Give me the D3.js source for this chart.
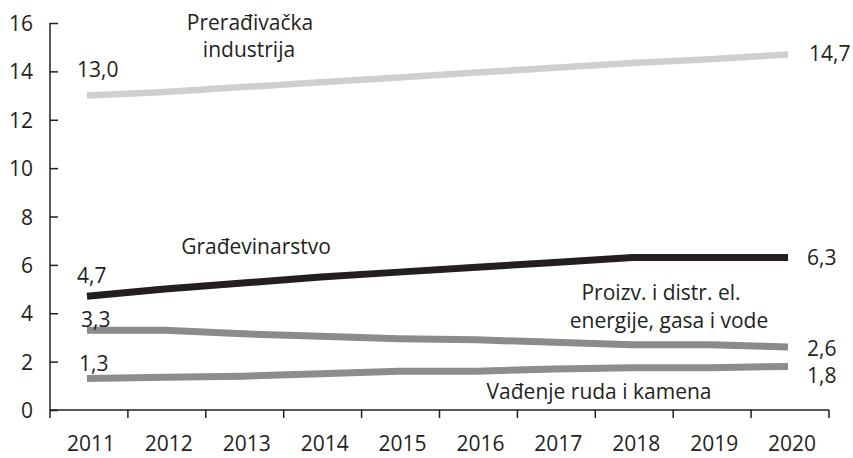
<!DOCTYPE html>
<meta charset="utf-8">
<style>
body { margin: 0; background: #fff; }
svg text { font-family: "Open Sans", sans-serif; fill: #231f20; font-size: 21px; }
</style>
<body>
<script src="https://d3js.org/d3.v7.min.js"></script>
<script>

// data
var years = ["2011","2012","2013","2014","2015","2016","2017","2018","2019","2020"];
var preradjivacka = [13.0, 13.15, 13.35, 13.55, 13.75, 13.95, 14.15, 14.35, 14.5, 14.7];
var gradjevinarstvo = [4.7, 5.0, 5.25, 5.5, 5.7, 5.9, 6.1, 6.3, 6.3, 6.3];
var energija = [3.3, 3.3, 3.15, 3.05, 2.95, 2.9, 2.8, 2.7, 2.7, 2.6];
var vadjenje = [1.3, 1.35, 1.4, 1.5, 1.6, 1.6, 1.7, 1.75, 1.75, 1.8];
var yTicks = [0, 2, 4, 6, 8, 10, 12, 14, 16];

var width = 853, height = 458;
var plotLeft = 50, plotRight = 829, plotTop = 23, plotBottom = 410;

var svg = d3.select("body").append("svg")
    .attr("width", width)
    .attr("height", height);

// scales
var x = d3.scaleBand().domain(years).range([plotLeft, plotRight]);
var y = d3.scaleLinear().domain([0, 16]).range([plotBottom, plotTop]);

var series = [
  {name: "pre", values: preradjivacka, color: "#cfcfd1", w: 6.5},
  {name: "gra", values: gradjevinarstvo, color: "#231f20", w: 7},
  {name: "ene", values: energija, color: "#8b8b8e", w: 7},
  {name: "vad", values: vadjenje, color: "#8d8d90", w: 7}
];

var line = d3.line()
    .x(function(d, i) { return x(years[i]) + x.bandwidth() / 2 - 2; })
    .y(function(d) { return y(d); });

svg.selectAll(".series")
  .data(series)
  .enter()
  .append("path")
    .attr("class", "series")
    .attr("d", function(d) { return line(d.values); })
    .attr("fill", "none")
    .attr("stroke", function(d) { return d.color; })
    .attr("stroke-width", function(d) { return d.w; });

// y axis, ticks pointing inward
var yAxis = svg.append("g")
  .attr("transform", "translate(" + plotLeft + ",0)")
  .call(d3.axisRight(y).tickValues(yTicks).tickSize(8).tickFormat(d3.format("d")));
yAxis.select(".domain").attr("d", "M0," + plotTop + "V" + plotBottom);
yAxis.selectAll("text")
    .attr("x", -17)
    .attr("dy", "0.36em")
    .attr("text-anchor", "end");

// x axis
var xAxis = svg.append("g")
  .attr("transform", "translate(0," + plotBottom + ")")
  .call(d3.axisBottom(x).tickSize(0).tickPadding(0));
xAxis.select(".domain").remove();
xAxis.selectAll("text")
    .attr("x", 2)
    .attr("y", 41)
    .attr("dy", 0);
// ticks at band edges
var edges = years.map(function(d) { return x(d); }).concat([plotRight]);
xAxis.selectAll(".edge")
  .data(edges)
  .enter()
  .append("line")
    .attr("class", "edge")
    .attr("x1", function(d) { return d; })
    .attr("x2", function(d) { return d; })
    .attr("y1", 0)
    .attr("y2", 8)
    .attr("stroke", "#231f20")
    .attr("stroke-width", 1.5);
xAxis.append("line")
    .attr("x1", plotLeft).attr("x2", plotRight)
    .attr("stroke", "#231f20").attr("stroke-width", 1.5);

yAxis.selectAll(".tick line").attr("stroke", "#231f20").attr("stroke-width", 1.5);
yAxis.select(".domain").attr("stroke", "#231f20").attr("stroke-width", 1.5);
svg.selectAll(".tick text").attr("fill", null);
svg.selectAll("g").attr("font-family", null).attr("font-size", null);

// value labels at start and end
var fmt = function(v) { return d3.format(".1f")(v).replace(".", ","); };
var labels = [
  {v: preradjivacka[0], x: 77, y: 77},
  {v: preradjivacka[9], x: 809, y: 61},
  {v: gradjevinarstvo[0], x: 77, y: 283},
  {v: gradjevinarstvo[9], x: 807, y: 265},
  {v: energija[0], x: 81, y: 327},
  {v: energija[9], x: 807, y: 356},
  {v: vadjenje[0], x: 79, y: 371},
  {v: vadjenje[9], x: 807, y: 383}
];
svg.selectAll(".val")
  .data(labels)
  .enter()
  .append("text")
    .attr("class", "val")
    .attr("x", function(d) { return d.x; })
    .attr("y", function(d) { return d.y; })
    .text(function(d) { return fmt(d.v); });

// series names
var names = [
  {t: "Prerađivačka", x: 250, y: 30},
  {t: "industrija", x: 249, y: 57},
  {t: "Građevinarstvo", x: 256, y: 254},
  {t: "Proizv. i distr. el.", x: 661, y: 300},
  {t: "energije, gasa i vode", x: 669, y: 328},
  {t: "Vađenje ruda i kamena", x: 599, y: 399}
];
svg.selectAll(".name")
  .data(names)
  .enter()
  .append("text")
    .attr("class", "name")
    .attr("x", function(d) { return d.x; })
    .attr("y", function(d) { return d.y; })
    .attr("text-anchor", "middle")
    .text(function(d) { return d.t; });

</script>
</body>
</html>
